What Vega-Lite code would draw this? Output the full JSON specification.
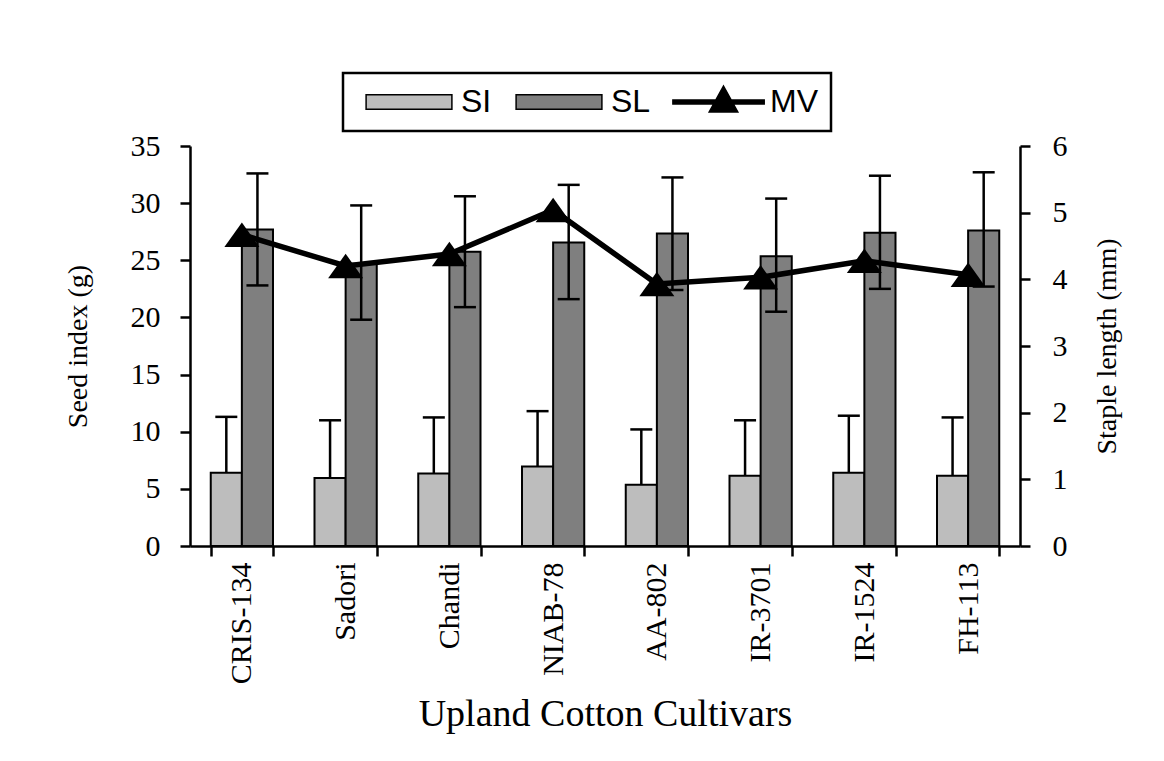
{
  "$schema": "https://vega.github.io/schema/vega-lite/v6.json",
  "width": 830,
  "height": 400,
  "autosize": "none",
  "padding": {"left": 190, "top": 146, "right": 144, "bottom": 215},
  "background": "white",
  "config": {
    "view": {"stroke": null},
    "font": "Liberation Serif",
    "axis": {
      "domainColor": "black", "domainWidth": 2.5,
      "tickColor": "black", "tickWidth": 2.5, "tickSize": 10,
      "labelColor": "black", "titleColor": "black",
      "labelFont": "Liberation Serif", "titleFont": "Liberation Serif",
      "labelFontSize": 30, "titleFontSize": 28, "titleFontWeight": "normal",
      "grid": false
    }
  },
  "datasets": {
    "traits": [
      {"cultivar": "CRIS-134", "trait": "SI", "mean": 6.4, "lower": 6.4, "upper": 11.3},
      {"cultivar": "CRIS-134", "trait": "SL", "mean": 27.7, "lower": 22.8, "upper": 32.6},
      {"cultivar": "Sadori", "trait": "SI", "mean": 5.95, "lower": 5.95, "upper": 11.0},
      {"cultivar": "Sadori", "trait": "SL", "mean": 24.7, "lower": 19.8, "upper": 29.8},
      {"cultivar": "Chandi", "trait": "SI", "mean": 6.35, "lower": 6.35, "upper": 11.25},
      {"cultivar": "Chandi", "trait": "SL", "mean": 25.75, "lower": 20.9, "upper": 30.6},
      {"cultivar": "NIAB-78", "trait": "SI", "mean": 6.95, "lower": 6.95, "upper": 11.8},
      {"cultivar": "NIAB-78", "trait": "SL", "mean": 26.55, "lower": 21.6, "upper": 31.6},
      {"cultivar": "AA-802", "trait": "SI", "mean": 5.35, "lower": 5.35, "upper": 10.2},
      {"cultivar": "AA-802", "trait": "SL", "mean": 27.35, "lower": 22.4, "upper": 32.25},
      {"cultivar": "IR-3701", "trait": "SI", "mean": 6.15, "lower": 6.15, "upper": 11.0},
      {"cultivar": "IR-3701", "trait": "SL", "mean": 25.35, "lower": 20.5, "upper": 30.4},
      {"cultivar": "IR-1524", "trait": "SI", "mean": 6.4, "lower": 6.4, "upper": 11.4},
      {"cultivar": "IR-1524", "trait": "SL", "mean": 27.4, "lower": 22.5, "upper": 32.4},
      {"cultivar": "FH-113", "trait": "SI", "mean": 6.15, "lower": 6.15, "upper": 11.25},
      {"cultivar": "FH-113", "trait": "SL", "mean": 27.6, "lower": 22.7, "upper": 32.7}
    ],
    "mv": [
      {"cultivar": "CRIS-134", "MV": 4.67},
      {"cultivar": "Sadori", "MV": 4.2},
      {"cultivar": "Chandi", "MV": 4.38},
      {"cultivar": "NIAB-78", "MV": 5.04},
      {"cultivar": "AA-802", "MV": 3.93},
      {"cultivar": "IR-3701", "MV": 4.03},
      {"cultivar": "IR-1524", "MV": 4.28},
      {"cultivar": "FH-113", "MV": 4.07}
    ]
  },
  "encoding": {
    "x": {
      "field": "cultivar", "type": "nominal",
      "sort": ["CRIS-134", "Sadori", "Chandi", "NIAB-78", "AA-802", "IR-3701", "IR-1524", "FH-113"],
      "scale": {"paddingInner": 0.4, "paddingOuter": 0.2},
      "axis": {
        "title": "Upland Cotton Cultivars", "titleFontSize": 38, "titlePadding": 12,
        "labelAngle": -90, "labelAlign": "right", "labelBaseline": "middle",
        "labelFontSize": 30, "labelPadding": 6, "tickBand": "extent"
      }
    }
  },
  "layer": [
    {
      "data": {"name": "traits"},
      "encoding": {
        "xOffset": {"field": "trait", "type": "nominal", "scale": {"domain": ["SI", "SL"], "paddingInner": 0, "paddingOuter": 0}}
      },
      "layer": [
        {
          "mark": {"type": "bar", "stroke": "black", "strokeWidth": 2},
          "encoding": {
            "y": {
              "field": "mean", "type": "quantitative",
              "scale": {"domain": [0, 35]},
              "axis": {"title": "Seed index (g)", "values": [0, 5, 10, 15, 20, 25, 30, 35], "titlePadding": 38, "labelPadding": 20}
            },
            "fill": {
              "field": "trait", "type": "nominal",
              "scale": {"domain": ["SI", "SL", "MV"], "range": ["#bdbdbd", "#7f7f7f", "black"]},
              "legend": {
                "orient": "none", "legendX": 153, "legendY": -73,
                "direction": "horizontal", "title": null,
                "strokeColor": "black", "padding": 13,
                "labelFont": "Liberation Sans", "labelFontSize": 32, "labelColor": "black",
                "symbolSize": 121, "symbolOffset": 37, "labelOffset": 36, "columnPadding": 14,
                "symbolStrokeColor": "black", "symbolStrokeWidth": 1.5,
                "encode": {
                  "legend": {"update": {"strokeWidth": {"value": 2.5}}},
                  "symbols": {"update": {"shape": {"signal": "datum.value === 'MV' ? 'M-8.2,-0.36H8.4V0.36H-8.2Z M1.0,-2.9L3.6,1.8H-1.6Z' : 'M-7.8,-1.3H7.8V1.3H-7.8Z'"}}}
                }
              }
            }
          }
        },
        {
          "mark": {"type": "rule", "color": "black", "strokeWidth": 2.5},
          "encoding": {
            "y": {"field": "lower", "type": "quantitative", "axis": {"title": "Seed index (g)"}},
            "y2": {"field": "upper"}
          }
        },
        {
          "mark": {"type": "tick", "color": "black", "thickness": 2.5, "size": 22, "opacity": 1},
          "encoding": {
            "y": {"field": "upper", "type": "quantitative", "axis": {"title": "Seed index (g)"}}
          }
        },
        {
          "transform": [{"filter": "datum.trait === 'SL'"}],
          "mark": {"type": "tick", "color": "black", "thickness": 2.5, "size": 22, "opacity": 1},
          "encoding": {
            "y": {"field": "lower", "type": "quantitative", "axis": {"title": "Seed index (g)"}}
          }
        }
      ]
    },
    {
      "data": {"name": "mv"},
      "encoding": {
        "y": {
          "field": "MV", "type": "quantitative",
          "scale": {"domain": [0, 6]},
          "axis": {"orient": "right", "title": "Staple length (mm)", "values": [0, 1, 2, 3, 4, 5, 6], "titlePadding": 26, "labelPadding": 22, "titleAngle": 270, "titleBaseline": "top"}
        }
      },
      "layer": [
        {"mark": {"type": "line", "color": "black", "strokeWidth": 5.5}},
        {"mark": {"type": "point", "shape": "M0,-0.7L1,0.7L-1,0.7Z", "size": 1225, "filled": true, "fill": "black", "opacity": 1}}
      ]
    }
  ],
  "resolve": {"scale": {"y": "independent"}}
}
